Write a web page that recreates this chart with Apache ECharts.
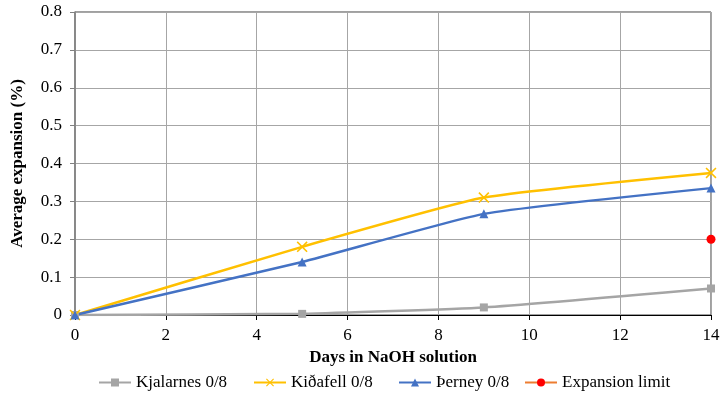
<!DOCTYPE html>
<html>
<head>
<meta charset="utf-8">
<script src="https://cdn.jsdelivr.net/npm/echarts@6/dist/echarts.min.js"></script>
<style>html,body{margin:0;padding:0;background:#fff}#c{width:721px;height:403px}</style>
</head>
<body>
<div id="c"></div>
<script>
// Days of exposure at which length change was measured
const days = [0, 5, 9, 14];
// Average expansion (%) per aggregate source
const kjalarnes = [0, 0.003, 0.02, 0.07];
const kidafell = [0, 0.18, 0.31, 0.375];
const therney = [0, 0.14, 0.267, 0.335];
// 14-day expansion limit
const limitDay = 14;
const limitValue = 0.2;

const xTicks = [0, 2, 4, 6, 8, 10, 12, 14];
const yTicks = [0, 0.1, 0.2, 0.3, 0.4, 0.5, 0.6, 0.7, 0.8];
const seriesNames = ['Kjalarnes 0/8', 'Kiðafell 0/8', 'Þerney 0/8', 'Expansion limit'];

const font = 'Liberation Serif';
const crossPath = 'path://M0,1L1,0L5,4L9,0L10,1L6,5L10,9L9,10L5,6L1,10L0,9L4,5Z';

const pairs = arr => days.map((d, i) => [d, arr[i]]);

const legendText = { fontFamily: font, fontSize: 17, color: '#000' };
// one legend block per series so each entry sits at its own spot
const legendLeft = [93, 248, 393, 519];
const legends = seriesNames.map((n, i) => ({
  data: [{ name: n, textStyle: legendText }], left: legendLeft[i], top: 369,
  itemWidth: 32, itemHeight: 10, itemGap: 0,
  textStyle: legendText
}));

const chart = echarts.init(document.getElementById('c'), null, { renderer: 'canvas' });
chart.setOption({
  animation: false,
  textStyle: { fontFamily: font },
  grid: { left: 75, right: 10, top: 12, bottom: 88, containLabel: false, outerBoundsMode: 'none',
    show: true, borderColor: '#404040', borderWidth: 1 },
  xAxis: {
    type: 'value',
    min: xTicks[0], max: xTicks[xTicks.length - 1], interval: 2,
    name: 'Days in NaOH solution', nameLocation: 'middle', nameGap: 33,
    nameTextStyle: { fontFamily: font, fontSize: 17, fontWeight: 'bold', color: '#000' },
    axisLine: { show: true, lineStyle: { color: '#000', width: 1 } },
    axisTick: { show: true, length: 5, lineStyle: { color: '#000' } },
    axisLabel: { fontFamily: font, fontSize: 17, color: '#000', margin: 12 },
    splitLine: { show: true, lineStyle: { color: '#a6a6a6', width: 1 } }
  },
  yAxis: {
    type: 'value',
    min: yTicks[0], max: yTicks[yTicks.length - 1], interval: 0.1,
    name: 'Average expansion (%)', nameLocation: 'middle', nameGap: 49, nameRotate: 90,
    nameTextStyle: { fontFamily: font, fontSize: 17, fontWeight: 'bold', color: '#000' },
    axisLine: { show: true, lineStyle: { color: '#808080', width: 1.5 } },
    axisTick: { show: true, length: 5, lineStyle: { color: '#808080' } },
    axisLabel: { fontFamily: font, fontSize: 17, color: '#000', margin: 13,
      formatter: v => (v === 0 ? '0' : v.toFixed(1)) },
    splitLine: { show: true, lineStyle: { color: '#a6a6a6', width: 1 } }
  },
  legend: legends,
  series: [
    {
      name: seriesNames[0], type: 'line', smooth: 0.15, data: pairs(kjalarnes),
      symbol: 'rect', symbolSize: 8,
      lineStyle: { color: '#a5a5a5', width: 2.5 }, itemStyle: { color: '#a5a5a5' }
    },
    {
      name: seriesNames[1], type: 'line', smooth: 0.15, data: pairs(kidafell),
      symbol: crossPath, symbolSize: 11,
      lineStyle: { color: '#ffc000', width: 2.5 }, itemStyle: { color: '#ffc000' }
    },
    {
      name: seriesNames[2], type: 'line', smooth: 0.15, data: pairs(therney),
      symbol: 'triangle', symbolSize: 9,
      lineStyle: { color: '#4472c4', width: 2.5 }, itemStyle: { color: '#4472c4' }
    },
    {
      name: seriesNames[3], type: 'line', data: [[limitDay, limitValue]],
      symbol: 'circle', symbolSize: 9,
      lineStyle: { color: '#ed7d31', width: 2.5 }, itemStyle: { color: '#ff0000' }
    }
  ]
});
</script>
</body>
</html>
